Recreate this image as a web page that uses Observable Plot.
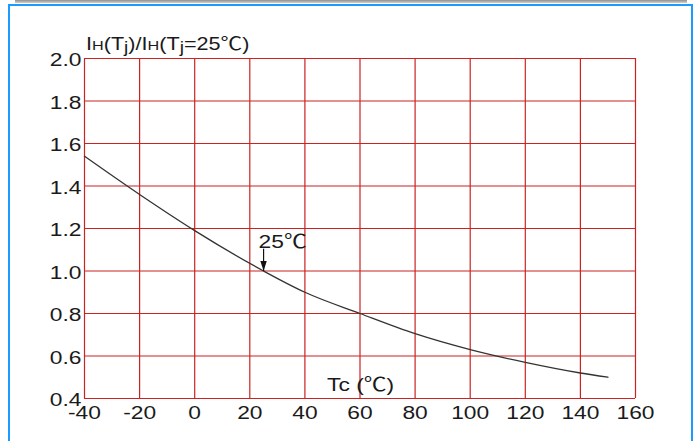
<!DOCTYPE html>
<html><head><meta charset="utf-8">
<script src="https://cdn.jsdelivr.net/npm/d3@7"></script>
<script src="https://cdn.jsdelivr.net/npm/@observablehq/plot@0.6"></script>
<style>
html,body{margin:0;padding:0;background:#fff;width:700px;height:441px;overflow:hidden;}
#bar{position:absolute;left:15px;top:0;width:672px;height:3px;background:linear-gradient(#8f8f8f,#d0d0d0);}
#frame{position:absolute;left:8px;top:4px;width:681px;height:470px;border:2px solid #1a9bff;box-sizing:content-box;}
#chart{position:absolute;left:0;top:0;}
.cjk{font-family:'Noto Sans CJK SC',sans-serif;}
</style></head><body>
<div id="bar"></div><div id="frame"></div><div id="chart"></div>
<script>
// Data
const temps = [-40, -20, 0, 25, 40, 60, 80, 100, 120, 140, 150];
const ratio = [1.54, 1.36, 1.19, 1.00, 0.90, 0.80, 0.705, 0.63, 0.57, 0.52, 0.50];
const xTicks = [-40, -20, 0, 20, 40, 60, 80, 100, 120, 140, 160];
const yTicks = [0.4, 0.6, 0.8, 1.0, 1.2, 1.4, 1.6, 1.8, 2.0];
const yTickLabels = ["0.4", "0.6", "0.8", "1.0", "1.2", "1.4", "1.6", "1.8", "2.0"];
const markT = [25];
const markFrom = [1.105];
const markTo = [1.0];
const noteLabel = ["25℃"];
const xAxisTitle = ["Tc (℃)"];

const curve = temps.map((t, i) => ({t, r: ratio[i]}));
const arrow = markT.map((t, i) => ({t, y1: markFrom[i], y2: markTo[i]}));

const head = {
  draw(ctx, size) {
    ctx.moveTo(0, 0);
    ctx.lineTo(-3.2, -10);
    ctx.lineTo(3.2, -10);
    ctx.closePath();
  }
};

const FONT = "'Liberation Sans', Arial, 'Noto Sans CJK SC', sans-serif";
const FS = 19;
const STRETCH = 1.2;
const red = "#cc2222";
const ink = "#1a1a1a";
const plot = Plot.plot({
  width: 700, height: 441,
  marginLeft: 84, marginRight: 65, marginTop: 58, marginBottom: 43,
  style: {background: "transparent", fontFamily: FONT, fontSize: FS + "px", color: ink},
  x: {domain: [-40, 160]},
  y: {domain: [0.4, 2.0]},
  marks: [
    Plot.ruleX(xTicks, {stroke: red, strokeWidth: 1.2}),
    Plot.ruleY(yTicks, {stroke: red, strokeWidth: 1.2}),
    Plot.axisX({ticks: xTicks, tickFormat: d => String(d), tickSize: 0, tickPadding: 7, label: null, fill: ink, fontSize: FS}),
    Plot.axisY({ticks: yTicks, tickFormat: d => yTickLabels[yTicks.indexOf(d)], tickSize: 0, tickPadding: 3, dy: 1.5, label: null, fill: ink, fontSize: FS}),
    Plot.line(curve, {x: "t", y: "r", curve: "monotone-x", stroke: "#333", strokeWidth: 1.3}),
    Plot.link(arrow, {x1: "t", x2: "t", y1: "y1", y2: "y2", stroke: "#111", strokeWidth: 1.2}),
    Plot.dot(arrow, {x: "t", y: "y2", symbol: head, fill: "#111", stroke: "none", r: 3}),
    Plot.text(noteLabel, {x: 23.2, y: 1.11, text: d => d, textAnchor: "start", lineAnchor: "bottom", fill: ink, fontSize: FS}),
    Plot.text(xAxisTitle, {x: 60.2, y: 0.433, text: d => d, textAnchor: "middle", lineAnchor: "bottom", fill: ink, fontSize: FS})
  ]
});
document.getElementById("chart").appendChild(plot);

// Y-axis title with small capital H and subscript j
const sx = plot.scale("x");
const svg = d3.select(plot);
const t = svg.append("text")
  .attr("x", sx.apply(-40) + 2)
  .attr("y", 50)
  .attr("text-anchor", "start")
  .attr("fill", ink)
  .style("font-family", FONT)
  .style("font-size", "18px");
const parts = [["I"], ["H", "sc"], ["(T"], ["j", "sub"], [")/I"], ["H", "sc"], ["(T"], ["j", "sub"], ["=25℃)"]];
let lowered = false;
for (const [s, kind] of parts) {
  const ts = t.append("tspan").text(s);
  if (kind === "sc") ts.style("font-size", "13.5px");
  if (kind === "sub") { ts.style("font-size", "16px").attr("dy", 3); lowered = true; }
  else if (lowered) { ts.attr("dy", -3); lowered = false; }
}

// Render the degree-Celsius sign with a full-width CJK glyph
svg.selectAll("text, tspan").each(function () {
  if (this.children.length) return;
  const s = this.textContent;
  if (!s.includes("℃")) return;
  const el = d3.select(this);
  const bits = s.split("℃");
  el.text(null);
  bits.forEach((b, i) => {
    if (b) el.append("tspan").text(b);
    if (i < bits.length - 1) el.append("tspan").attr("class", "cjk").text("℃");
  });
});

// The reference lettering is horizontally stretched: widen each text about its own anchor point
const ns = "http://www.w3.org/2000/svg";
svg.selectAll("text").nodes().forEach(node => {
  const m = node.transform.baseVal.consolidate();
  const e = m ? m.matrix.e : 0, f = m ? m.matrix.f : 0;
  const x = node.x.baseVal.length ? node.x.baseVal[0].value : 0;
  const y = node.y.baseVal.length ? node.y.baseVal[0].value : 0;
  const ax = e + x, ay = f + y;
  const g = document.createElementNS(ns, "g");
  g.setAttribute("transform", `translate(${ax},${ay}) scale(${STRETCH},1) translate(${-ax},${-ay})`);
  node.parentNode.insertBefore(g, node);
  g.appendChild(node);
});
</script>
</body></html>
